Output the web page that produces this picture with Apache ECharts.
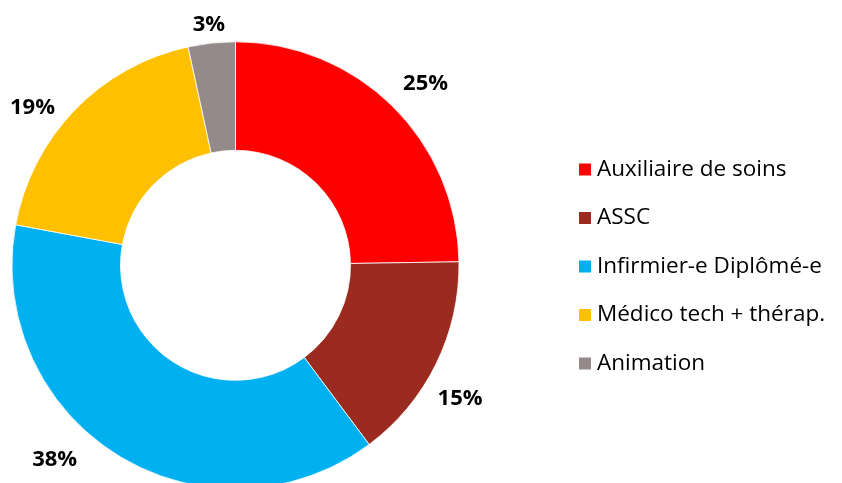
<!DOCTYPE html>
<html>
<head>
<meta charset="utf-8">
<script src="https://cdn.jsdelivr.net/npm/echarts@6/dist/echarts.min.js"></script>
<style>
  html, body { margin: 0; padding: 0; background: #fff; }
  #chart { width: 842px; height: 483px; }
</style>
</head>
<body>
<div id="chart"></div>
<script>
const categories = ['Auxiliaire de soins', 'ASSC', 'Infirmier-e Diplômé-e', 'Médico tech + thérap.', 'Animation'];
// shares in %
const shares = [24.75, 15.05, 38.1, 18.7, 3.4];
const colors = ['#FF0000', '#9C2B1F', '#00B0F0', '#FFC000', '#948A8A'];
// nudges so the percentage labels sit where the original put them
const labelShift = [[-4, -12], [-16, 29], [-28, -7], [-5, 8], [20, -4]];

const chart = echarts.init(document.getElementById('chart'));

chart.setOption({
  animation: false,
  textStyle: { fontFamily: 'Open Sans' },
  legend: {
    orient: 'vertical',
    left: 572,
    top: 153,
    icon: 'rect',
    itemWidth: 14,
    itemHeight: 14,
    itemGap: 25.5,
    textStyle: { fontSize: 22.5, color: '#000', padding: [0, 0, 0, 0] },
    data: categories
  },
  series: [
    {
      type: 'pie',
      center: [235.5, 265.3],
      radius: [115, 223.5],
      startAngle: 90,
      clockwise: true,
      avoidLabelOverlap: false,
      itemStyle: { borderColor: '#fff', borderWidth: 0.8 },
      label: {
        show: true,
        position: 'outside',
        formatter: p => Math.round(p.percent) + '%',
        fontSize: 22,
        fontWeight: 'bold',
        color: '#000'
      },
      labelLine: { show: false, length: 14, length2: 0 },
      labelLayout: p => ({ dx: labelShift[p.dataIndex][0], dy: labelShift[p.dataIndex][1] }),
      data: categories.map((name, i) => ({
        name: name,
        value: shares[i],
        itemStyle: { color: colors[i] }
      }))
    }
  ]
});
</script>
</body>
</html>
